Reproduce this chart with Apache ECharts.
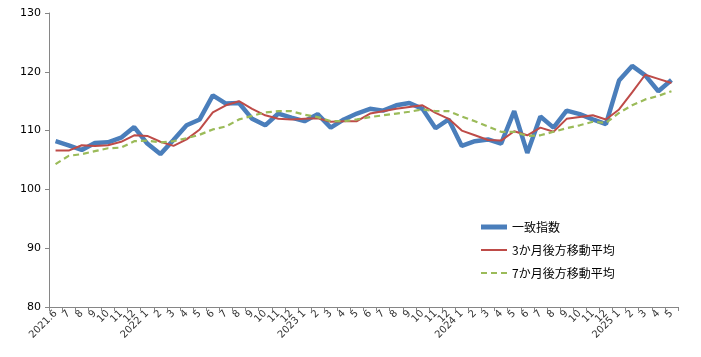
<!DOCTYPE html>
<html><head><meta charset="utf-8">
<script src="https://cdn.jsdelivr.net/npm/echarts@6/dist/echarts.min.js"></script>
<style>html,body{margin:0;padding:0;background:#fff}#c{width:701px;height:357px}</style>
</head><body><div id="c"></div>
<script>
const categories = ['2021.6','7','8','9','10','11','12','2022 1','2','3','4','5','6','7','8','9','10','11','12','2023 1','2','3','4','5','6','7','8','9','10','11','12','2024 1','2','3','4','5','6','7','8','9','10','11','12','2025 1','2','3','4','5'];
const coincident = [108.2,107.5,106.7,107.9,108.0,108.8,110.6,107.8,106.0,108.4,110.9,111.9,116.0,114.6,114.7,112.0,110.9,112.9,112.2,111.6,112.8,110.5,111.9,112.9,113.7,113.4,114.3,114.7,113.7,110.4,111.9,107.4,108.2,108.5,107.8,113.3,106.2,112.4,110.5,113.4,112.8,111.9,111.1,118.5,121.0,119.4,116.7,118.6];
const ma3 = [106.6,106.6,107.5,107.4,107.5,108.1,109.2,109.1,108.1,107.4,108.5,110.2,113.1,114.3,115.0,113.7,112.6,112.0,111.9,112.0,112.1,111.5,111.6,111.6,112.9,113.3,113.7,114.0,114.3,113.0,112.0,110.0,109.2,108.4,108.3,109.9,109.2,110.5,109.8,112.0,112.3,112.6,111.9,113.6,116.5,119.5,118.8,118.1];
const ma7 = [104.3,105.7,106.0,106.5,107.0,107.1,108.2,108.3,108.0,108.2,108.7,109.3,110.2,110.7,111.9,112.5,113.1,113.3,113.3,112.7,112.3,111.6,111.6,111.9,112.3,112.6,112.9,113.2,113.6,113.3,113.3,112.4,111.6,110.7,109.8,109.8,109.1,109.2,109.8,110.4,110.9,111.5,111.3,113.0,114.3,115.3,115.9,116.7];
const seriesNames = ['一致指数','3か月後方移動平均','7か月後方移動平均'];
const yMin = 80, yMax = 130, yStep = 10;

const chart = echarts.init(document.getElementById('c'), null, {renderer:'canvas'});
const font = '"Noto Sans CJK JP", "DejaVu Sans", sans-serif';
chart.setOption({
  animation:false,
  backgroundColor:'#fff',
  grid:{left:49,right:23,top:13,bottom:50,containLabel:false},
  legend:{
    orient:'vertical', left:476, top:216, itemGap:11, itemWidth:26, itemHeight:14,
    textStyle:{fontFamily:font,fontSize:12,color:'#000'},
    data:[
      {name:seriesNames[0], icon:'path://M0,0 L26,0 L26,5 L0,5 Z', itemHeight:5, itemStyle:{color:'#4a7ebb'}},
      {name:seriesNames[1], icon:'path://M0,0 L26,0 L26,2 L0,2 Z', itemHeight:2, itemStyle:{color:'#be4b48'}},
      {name:seriesNames[2], icon:'path://M0,0 L6,0 L6,2 L0,2 Z M10,0 L16,0 L16,2 L10,2 Z M20,0 L26,0 L26,2 L20,2 Z', itemHeight:2, itemStyle:{color:'#9bbb59'}}
    ]
  },
  xAxis:{
    type:'category', data:categories, boundaryGap:true,
    axisLine:{lineStyle:{color:'#868686'}},
    axisTick:{show:true,length:4,lineStyle:{color:'#868686'}},
    axisLabel:{rotate:45,interval:0,fontSize:10,color:'#333',fontFamily:'"DejaVu Sans", sans-serif',margin:5}
  },
  yAxis:{
    type:'value', min:yMin, max:yMax, interval:yStep,
    splitLine:{show:false},
    axisLine:{show:true,lineStyle:{color:'#868686'}},
    axisTick:{show:true,length:4,lineStyle:{color:'#868686'}},
    axisLabel:{fontSize:11,color:'#000',fontFamily:'"DejaVu Sans", sans-serif',margin:8}
  },
  series:[
    {name:seriesNames[0],type:'line',data:coincident,symbol:'none',lineStyle:{color:'#4a7ebb',width:4.5},itemStyle:{color:'#4a7ebb'},z:3},
    {name:seriesNames[1],type:'line',data:ma3,symbol:'none',lineStyle:{color:'#be4b48',width:2},itemStyle:{color:'#be4b48'},z:4},
    {name:seriesNames[2],type:'line',data:ma7,symbol:'none',lineStyle:{color:'#9bbb59',width:2.2,type:[6,4]},itemStyle:{color:'#9bbb59'},z:5}
  ]
});
</script></body></html>
